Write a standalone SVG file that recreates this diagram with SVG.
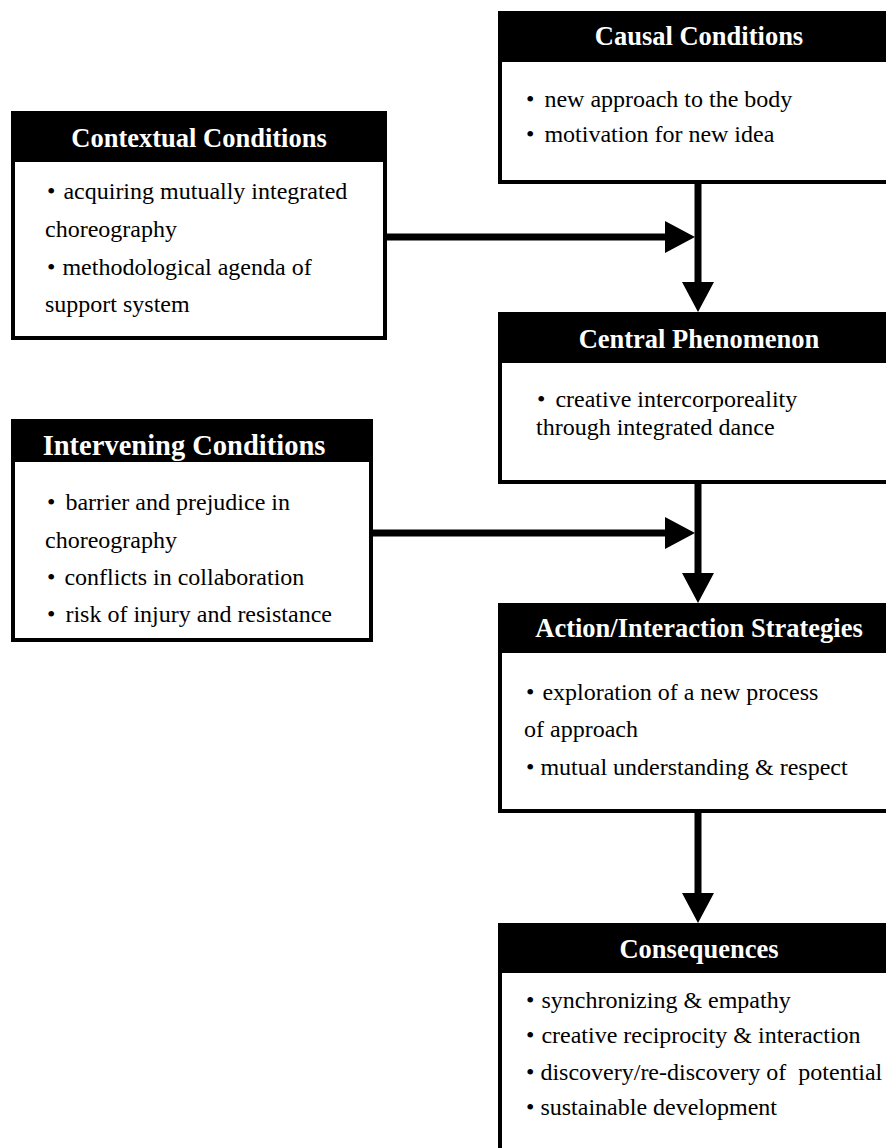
<svg xmlns="http://www.w3.org/2000/svg" width="886" height="1148" viewBox="0 0 886 1148">
<defs>
<style>
.box{fill:#fff;stroke:#000;stroke-width:4}
.hdr{fill:#000}
.ht{font-family:"Liberation Serif","Times New Roman",serif;font-weight:bold;font-size:26.5px;fill:#fff;text-anchor:middle}
.bt{font-family:"Liberation Serif","Times New Roman",serif;font-size:24px;fill:#000}
.con{stroke:#000;stroke-width:7;fill:none}
</style>
<marker id="ah" markerUnits="userSpaceOnUse" markerWidth="30" markerHeight="32" refX="0" refY="16" orient="auto" viewBox="0 0 30 32">
<path d="M0,0 L30,16 L0,32 Z" fill="#000"/>
</marker>
</defs>
<rect width="886" height="1148" fill="#fff"/>
<g id="connectors">
<line class="con" x1="698" y1="182" x2="698" y2="282" marker-end="url(#ah)"/>
<line class="con" x1="385" y1="237" x2="665" y2="237" marker-end="url(#ah)"/>
<line class="con" x1="698" y1="482" x2="698" y2="573" marker-end="url(#ah)"/>
<line class="con" x1="371" y1="533" x2="665" y2="533" marker-end="url(#ah)"/>
<line class="con" x1="698" y1="811" x2="698" y2="893" marker-end="url(#ah)"/>
</g>
<g id="causal">
<rect class="box" x="500" y="13" width="400" height="169"/>
<rect class="hdr" x="498" y="11" width="404" height="51"/>
<text class="ht" x="699" y="45">Causal Conditions</text>
<text class="bt" x="526" y="107">•<tspan dx="4"> new approach to the body</tspan></text>
<text class="bt" x="526" y="142">•<tspan dx="4"> motivation for new idea</tspan></text>
</g>
<g id="contextual">
<rect class="box" x="13" y="113" width="372" height="225"/>
<rect class="hdr" x="11" y="111" width="376" height="51"/>
<text class="ht" x="199" y="147">Contextual Conditions</text>
<text class="bt" x="47" y="199">•<tspan dx="2"> acquiring mutually integrated</tspan></text>
<text class="bt" x="45" y="237">choreography</text>
<text class="bt" x="47" y="275">•<tspan dx="1"> methodological agenda of</tspan></text>
<text class="bt" x="45" y="312">support system</text>
</g>
<g id="central">
<rect class="box" x="500" y="314" width="400" height="168"/>
<rect class="hdr" x="498" y="312" width="404" height="51"/>
<text class="ht" x="699" y="348">Central Phenomenon</text>
<text class="bt" x="537" y="407">•<tspan dx="4"> creative intercorporeality</tspan></text>
<text class="bt" x="536" y="435">through integrated dance</text>
</g>
<g id="intervening">
<rect class="box" x="13" y="421" width="358" height="219"/>
<rect class="hdr" x="11" y="419" width="362" height="43"/>
<text class="ht" x="184" y="455" style="font-size:28.5px">Intervening Conditions</text>
<text class="bt" x="47" y="510">•<tspan dx="4"> barrier and prejudice in</tspan></text>
<text class="bt" x="45" y="548">choreography</text>
<text class="bt" x="47" y="585">•<tspan dx="3"> conflicts in collaboration</tspan></text>
<text class="bt" x="47" y="622">•<tspan dx="4"> risk of injury and resistance</tspan></text>
</g>
<g id="action">
<rect class="box" x="500" y="605" width="400" height="206"/>
<rect class="hdr" x="498" y="603" width="404" height="50"/>
<text class="ht" x="699" y="637">Action/Interaction Strategies</text>
<text class="bt" x="526" y="700">•<tspan dx="2"> exploration of a new process</tspan></text>
<text class="bt" x="524" y="737">of approach</text>
<text class="bt" x="526" y="775">• mutual understanding &amp; respect</text>
</g>
<g id="consequences">
<rect class="box" x="500" y="925" width="400" height="240"/>
<rect class="hdr" x="498" y="923" width="404" height="50"/>
<text class="ht" x="699" y="958">Consequences</text>
<text class="bt" x="526" y="1008">•<tspan dx="1"> synchronizing &amp; empathy</tspan></text>
<text class="bt" x="526" y="1043">•<tspan dx="1"> creative reciprocity &amp; interaction</tspan></text>
<text class="bt" x="526" y="1080">• discovery/re-discovery of&#160; potential</text>
<text class="bt" x="526" y="1115">• sustainable development</text>
</g>
</svg>
